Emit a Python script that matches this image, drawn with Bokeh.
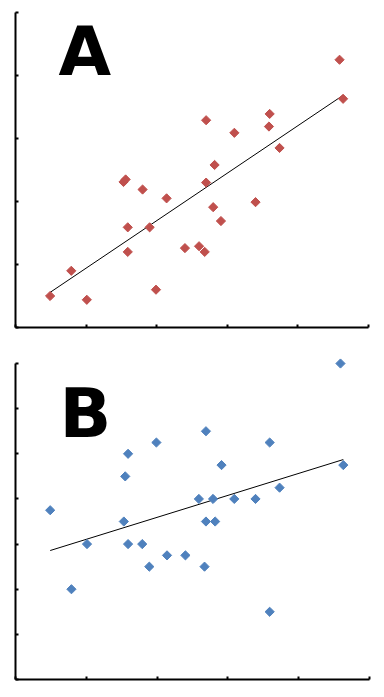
import numpy as np
from bokeh.plotting import figure
from bokeh.layouts import column
from bokeh.models import Label, FixedTicker
from bokeh.embed import file_html
from bokeh.resources import INLINE

# shared x values
x_vals = [0.49, 0.79, 1.01, 1.53, 1.56, 1.59, 1.59, 1.80, 1.90, 1.99, 2.14, 2.40, 2.60,
          2.68, 2.70, 2.70, 2.80, 2.82, 2.91, 3.10, 3.40, 3.59, 3.60, 3.74, 4.59, 4.64]

# panel A values (same order as x_vals)
a_vals = [0.50, 0.90, 0.44, 2.31, 2.35, 1.59, 1.20, 2.19, 1.59, 0.60, 2.05, 1.26, 1.29,
          1.20, 3.29, 2.30, 1.91, 2.58, 1.69, 3.09, 1.99, 3.19, 3.39, 2.85, 4.25, 3.63]

# panel B x values (slightly different readings)
xb_vals = [0.49, 0.79, 1.01, 1.53, 1.55, 1.59, 1.59, 1.79, 1.89, 1.99, 2.14, 2.40, 2.59,
           2.67, 2.69, 2.69, 2.79, 2.82, 2.91, 3.09, 3.39, 3.59, 3.59, 3.73, 4.59, 4.63]
b_vals = [3.75, 2.00, 3.00, 3.50, 4.50, 5.00, 3.00, 3.00, 2.50, 5.25, 2.75, 2.75, 4.00,
          2.50, 3.50, 5.50, 4.00, 3.50, 4.75, 4.00, 4.00, 5.25, 1.50, 4.25, 7.00, 4.75]

x_ticks = [0, 1, 2, 3, 4, 5]
a_ticks = [0, 1, 2, 3, 4, 5]
b_ticks = [0, 1, 2, 3, 4, 5, 6, 7]


def make_panel(xs, ys, yticks, ytop, color, letter, lx, ly, fsize, width, height,
               bl, br, bt, bb, fw, fh):
    p = figure(width=width, height=height, frame_width=fw, frame_height=fh,
               x_range=(0, 5), y_range=(0, ytop),
               output_backend="svg", toolbar_location=None,
               min_border_left=bl, min_border_right=br,
               min_border_top=bt, min_border_bottom=bb)
    p.grid.visible = False
    p.outline_line_color = None
    p.background_fill_color = "white"
    p.border_fill_color = "white"
    for ax, ticks in ((p.xaxis[0], x_ticks), (p.yaxis[0], yticks)):
        ax.ticker = FixedTicker(ticks=ticks, minor_ticks=[])
        ax.bounds = (0, max(ticks))
        ax.axis_line_width = 2
        ax.axis_line_color = "black"
        ax.major_tick_line_width = 2
        ax.major_tick_line_color = "black"
        ax.major_tick_in = 3
        ax.major_tick_out = 0
        ax.minor_tick_line_color = None
        ax.major_label_text_font_size = "0px"
        ax.major_label_standoff = 0
        ax.major_label_text_color = None
    # regression line
    m, c = np.polyfit(xs, ys, 1)
    x0, x1 = min(xs), max(xs)
    p.line([x0, x1], [m * x0 + c, m * x1 + c], line_color="black", line_width=1)
    p.scatter(xs, ys, marker="square", size=6.5, angle=np.pi / 4,
              fill_color=color, line_color=color)
    p.add_layout(Label(x=lx, y=ly, text=letter, text_font="DejaVu Sans",
                       text_font_style="bold", text_font_size=fsize,
                       text_color="black", text_baseline="alphabetic"))
    return p


pa = make_panel(x_vals, a_vals, a_ticks, 5, "#C0504D", "A", 0.61, 4.38, "68px",
                373, 344, 14, 6, 12, 17, 353, 315)
pb = make_panel(xb_vals, b_vals, b_ticks, 7.2, "#4F81BD", "B", 0.62, 5.90, "68px",
                373, 343, 15, 4, 10, 8, 354, 325)

layout = column(pa, pb, spacing=0)
open("out.html", "w").write(file_html(layout, INLINE))
